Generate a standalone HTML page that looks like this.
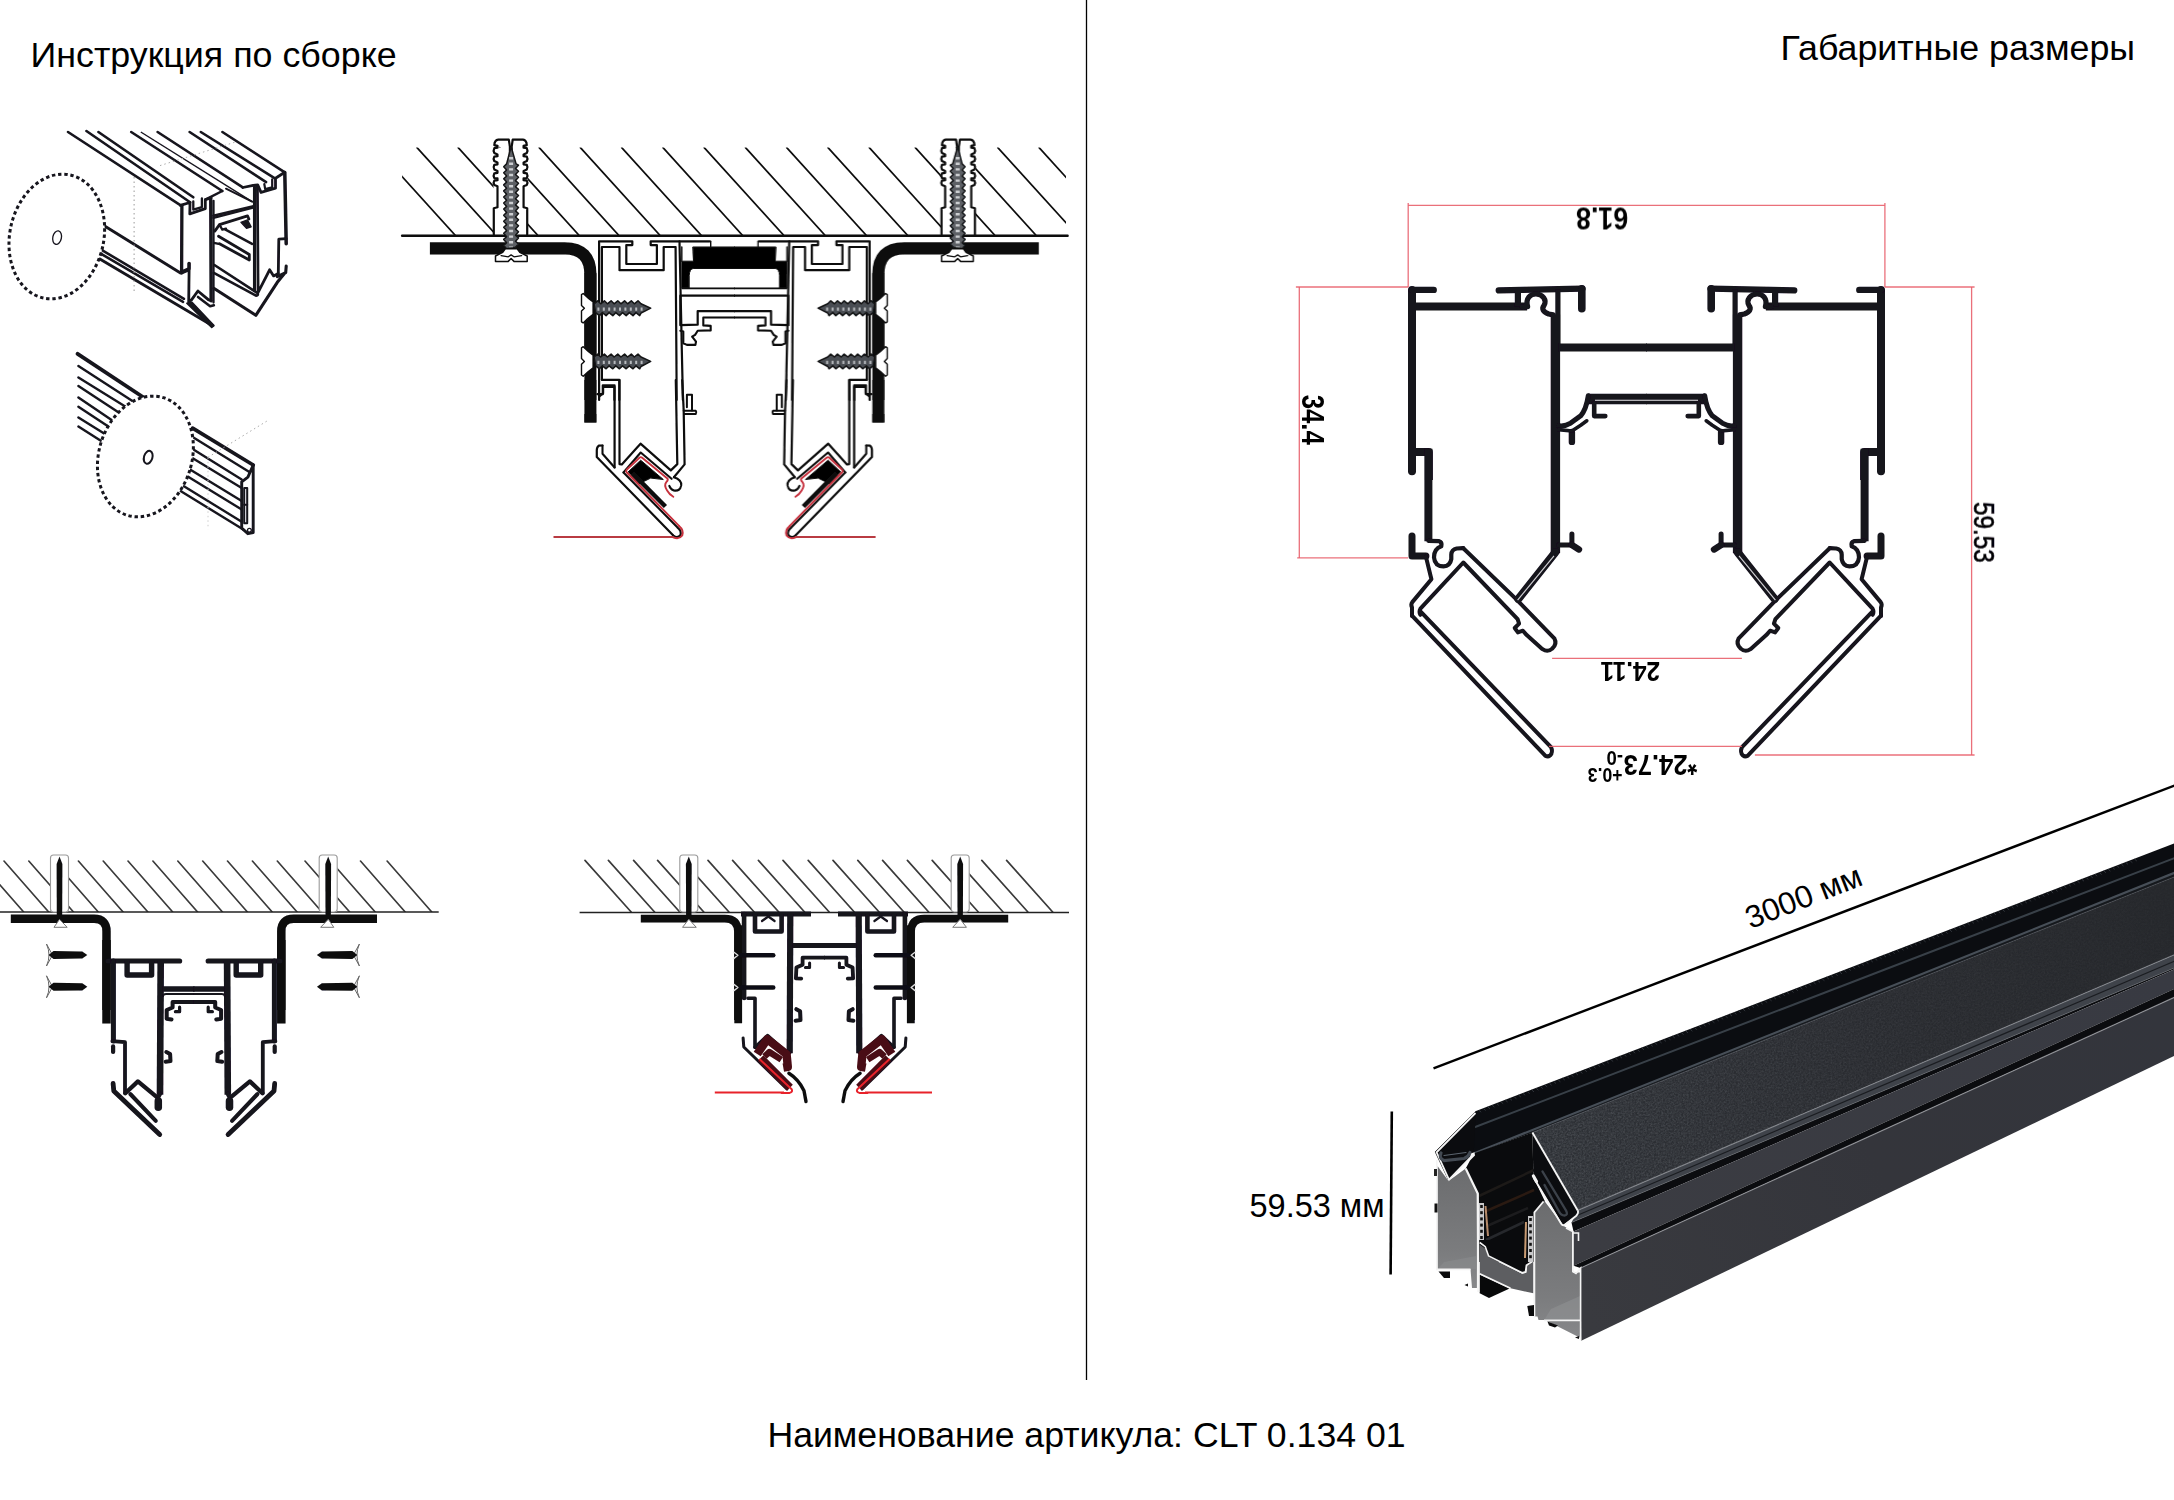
<!DOCTYPE html>
<html lang="ru"><head><meta charset="utf-8"><title>CLT 0.134 01</title>
<style>
html,body{margin:0;padding:0;background:#fff;}
body{width:2174px;height:1500px;overflow:hidden;font-family:"Liberation Sans",sans-serif;}
svg{display:block}
text{font-family:"Liberation Sans",sans-serif;fill:#000}
.k{fill:none;stroke:#111;stroke-linecap:round;stroke-linejoin:round}
.r{fill:none;stroke:#e0232b;stroke-linecap:round;stroke-linejoin:round}
</style></head><body>
<svg width="2174" height="1500" viewBox="0 0 2174 1500">
<rect width="2174" height="1500" fill="#fff"/>
<!-- headings, divider and caption -->
<line x1="1086.5" y1="0" x2="1086.5" y2="1380" stroke="#000" stroke-width="1.3"/>
<text x="30.5" y="66.5" font-size="35.8">Инструкция по сборке</text>
<text x="1780.6" y="59.5" font-size="35.8">Габаритные размеры</text>
<text x="767.4" y="1446.5" font-size="35.65">Наименование артикула: CLT 0.134 01</text>
<text x="1249.5" y="1216.5" font-size="32.5" fill="#111">59.53 мм</text>
<line x1="1391.8" y1="1111.5" x2="1390.6" y2="1274.5" stroke="#000" stroke-width="2.6"/>
<line x1="1433.5" y1="1068.4" x2="2176" y2="784.9" stroke="#000" stroke-width="2.4"/>
<text transform="translate(1750.4,929.2) rotate(-21.4)" font-size="31.6" fill="#111">3000 мм</text>

<!-- mounting section, top centre -->
<defs><filter id="soft3" x="-2%" y="-2%" width="104%" height="104%"><feGaussianBlur stdDeviation="0.45"/></filter></defs>
<g filter="url(#soft3)">
<clipPath id="hatchClip"><path d="M402.1,147.6 H1066.0 V235.8 H402.1 Z M493.5,235.8 h34 v-98 h-34 Z M941.3,235.8 h34 v-98 h-34 Z" clip-rule="evenodd"/></clipPath>
<g clip-path="url(#hatchClip)" stroke="#111" stroke-width="1.7" stroke-linecap="round">
<line x1="375.7" y1="147.6" x2="455.7" y2="235.8"/>
<line x1="417.0" y1="147.6" x2="497.0" y2="235.8"/>
<line x1="458.2" y1="147.6" x2="538.2" y2="235.8"/>
<line x1="499.5" y1="147.6" x2="579.5" y2="235.8"/>
<line x1="539.2" y1="147.6" x2="619.2" y2="235.8"/>
<line x1="580.4" y1="147.6" x2="660.4" y2="235.8"/>
<line x1="621.7" y1="147.6" x2="701.7" y2="235.8"/>
<line x1="663.0" y1="147.6" x2="742.9" y2="235.8"/>
<line x1="704.2" y1="147.6" x2="784.2" y2="235.8"/>
<line x1="745.5" y1="147.6" x2="825.5" y2="235.8"/>
<line x1="786.7" y1="147.6" x2="866.7" y2="235.8"/>
<line x1="828.0" y1="147.6" x2="908.0" y2="235.8"/>
<line x1="869.3" y1="147.6" x2="949.2" y2="235.8"/>
<line x1="915.3" y1="147.6" x2="995.3" y2="235.8"/>
<line x1="956.5" y1="147.6" x2="1036.5" y2="235.8"/>
<line x1="997.8" y1="147.6" x2="1077.8" y2="235.8"/>
<line x1="1039.1" y1="147.6" x2="1119.0" y2="235.8"/>
</g>
<line x1="402.1" y1="235.8" x2="1067.6" y2="235.8" stroke="#0d0d0d" stroke-width="2.4" stroke-linecap="round"/>
<clipPath id="asmL"><rect x="380" y="100" width="354.7" height="470"/></clipPath>
<g id="asmHalf" clip-path="url(#asmL)">
<path d="M 429.9,248.3 L 564.7,248.3 Q 590.4,248.3 590.4,274.6 L 590.4,361.5" fill="none" stroke="#0d0d0d" stroke-width="12.2" stroke-linecap="butt" stroke-linejoin="round" />
<path d="M 590.4,414.0 L 590.4,422.5" fill="none" stroke="#0d0d0d" stroke-width="12" stroke-linecap="butt" stroke-linejoin="round" />
<path d="M 590.4,380.0 L 590.4,422.5" fill="none" stroke="#0d0d0d" stroke-width="12" stroke-linecap="butt" stroke-linejoin="round" />
<path d="M 590.4,273.1 L 590.4,400.0" fill="none" stroke="#0d0d0d" stroke-width="12" stroke-linecap="butt" stroke-linejoin="round" />
<path d="M 493.8,235.1 L 493.8,208.2 L 497.5,207.3 L 497.5,186.3 L 494.3,185.0 Q 493.0,182.8 494.3,180.7 L 497.5,180.2 L 497.5,178.4 L 494.3,178.1 Q 493.0,175.7 494.3,173.3 L 497.5,172.8 L 497.5,171.0 L 494.3,169.6 Q 493.0,167.2 494.3,164.8 L 497.5,164.3 L 497.5,162.5 L 494.3,161.1 Q 493.0,158.8 494.3,156.7 L 497.5,156.2 L 497.5,154.5 L 494.3,153.0 Q 493.0,150.6 494.3,148.2 L 497.5,147.7 L 497.5,145.9 L 494.3,145.1 Q 494.6,140.0 498.2,139.6 L 508.8,139.6 L 509.9,146.6 L 509.9,157.0" fill="none" stroke="#0d0d0d" stroke-width="2.2" stroke-linecap="round" stroke-linejoin="round" />
<path d="M 527.2,235.1 L 527.2,208.2 L 523.6,207.3 L 523.6,186.3 L 526.8,185.0 Q 528.1,182.8 526.8,180.7 L 523.6,180.2 L 523.6,178.4 L 526.8,178.1 Q 528.1,175.7 526.8,173.3 L 523.6,172.8 L 523.6,171.0 L 526.8,169.6 Q 528.1,167.2 526.8,164.8 L 523.6,164.3 L 523.6,162.5 L 526.8,161.1 Q 528.1,158.8 526.8,156.7 L 523.6,156.2 L 523.6,154.5 L 526.8,153.0 Q 528.1,150.6 526.8,148.2 L 523.6,147.7 L 523.6,145.9 L 526.8,145.1 Q 526.5,140.0 523.0,139.6 L 512.7,139.6 L 511.7,146.6 L 511.7,157.0" fill="none" stroke="#0d0d0d" stroke-width="2.2" stroke-linecap="round" stroke-linejoin="round" />
<path d="M506.6,248.8 L503.7,245.5 L506.6,242.7 L503.7,239.4 L506.6,236.7 L503.7,233.3 L506.6,230.6 L503.7,227.3 L506.6,224.6 L503.7,221.2 L506.6,218.5 L503.7,215.2 L506.6,212.4 L503.7,209.1 L506.6,206.4 L503.7,203.0 L506.6,200.3 L503.7,197.0 L506.6,194.2 L503.7,190.9 L506.6,188.2 L503.7,184.9 L506.6,182.1 L503.7,178.8 L506.6,176.1 L503.7,172.7 L506.6,170.0 L503.7,166.7 L506.6,163.9 L511.1,146.6 L516.1,163.9 L518.5,165.2 L515.5,168.5 L518.5,171.2 L515.5,174.5 L518.5,177.3 L515.5,180.6 L518.5,183.3 L515.5,186.7 L518.5,189.4 L515.5,192.7 L518.5,195.5 L515.5,198.8 L518.5,201.5 L515.5,204.9 L518.5,207.6 L515.5,210.9 L518.5,213.6 L515.5,217.0 L518.5,219.7 L515.5,223.0 L518.5,225.8 L515.5,229.1 L518.5,231.8 L515.5,235.2 L518.5,237.9 L515.5,241.2 L518.5,243.9 L515.5,247.3 Z" fill="#5d6065" stroke="#131416" stroke-width="1.5" stroke-linejoin="round"/>
<path d="M 511.1,157.0 L 511.1,247.2" fill="none" stroke="#d8dadd" stroke-width="4.0" stroke-linecap="butt" stroke-linejoin="round" stroke-dasharray="2.4 3.2" opacity="0.9"/>
<path d="M 505.3,248.8 L 517.2,248.8 L 519.8,252.3 L 527.2,256.0 L 527.2,261.4 L 514.0,261.4 L 511.1,258.5 L 508.2,261.4 L 495.5,261.4 L 495.5,256.0 L 502.7,252.3 Z" fill="#fff" stroke="#0d0d0d" stroke-width="1.5" stroke-linecap="round" stroke-linejoin="round" />
<path d="M 501.1,255.6 L 508.3,256.8 L 511.1,254.9 L 514.0,256.8 L 521.7,255.6" fill="none" stroke="#0d0d0d" stroke-width="1.3" stroke-linecap="round" stroke-linejoin="round" />
<path d="M 599.1,400.0 L 599.1,241.3 L 632.3,241.3 L 632.3,245.1 L 626.3,245.1 L 626.3,264.0 L 656.9,264.0 L 656.9,245.1 L 650.7,245.1 L 650.7,241.3 L 709.6,241.3" fill="none" stroke="#0d0d0d" stroke-width="2.2" stroke-linecap="round" stroke-linejoin="round" />
<path d="M 601.9,379.8 L 601.9,247.0 L 619.5,247.0 L 619.5,270.2 L 663.7,270.2 L 663.7,247.0 L 675.6,247.0 L 676.7,400.0" fill="none" stroke="#0d0d0d" stroke-width="2.2" stroke-linecap="round" stroke-linejoin="round" />
<path d="M 679.5,241.3 L 682.9,400.0" fill="none" stroke="#0d0d0d" stroke-width="2.2" stroke-linecap="round" stroke-linejoin="round" />
<path d="M 601.9,379.8 L 619.3,379.8 L 619.3,400.0" fill="none" stroke="#0d0d0d" stroke-width="2.2" stroke-linecap="round" stroke-linejoin="round" />
<path d="M 599.1,396.6 L 603.1,393.2 L 603.1,386.9 L 614.4,386.9 L 614.4,400.0" fill="none" stroke="#0d0d0d" stroke-width="2.2" stroke-linecap="round" stroke-linejoin="round" />
<path d="M 693.1,247.0 L 736.8,247.0 L 736.8,268.5 L 693.1,268.5 Q 689.7,269.1 689.2,275.3 L 689.2,288.4 L 681.8,288.4 L 681.8,261.2 L 693.1,261.2 Z" fill="#050505" stroke="#0d0d0d" stroke-width="1" stroke-linecap="round" stroke-linejoin="round" />
<path d="M 681.8,288.4 L 736.8,288.4" fill="none" stroke="#0d0d0d" stroke-width="1.8" stroke-linecap="butt" stroke-linejoin="round" />
<path d="M 681.8,247.0 L 681.8,261.2" fill="none" stroke="#0d0d0d" stroke-width="1.4" stroke-linecap="round" stroke-linejoin="round" />
<path d="M 710.7,241.3 L 710.7,247.0" fill="none" stroke="#0d0d0d" stroke-width="1.4" stroke-linecap="round" stroke-linejoin="round" />
<path d="M 736.8,295.7 L 680.3,295.7 L 680.3,325.2 L 697.7,324.7 L 697.7,311.1 L 736.8,311.1" fill="none" stroke="#0d0d0d" stroke-width="2.2" stroke-linecap="round" stroke-linejoin="round" />
<path d="M 736.8,317.5 L 703.3,317.5 L 703.3,325.4 L 710.7,325.9 L 710.7,330.4 L 697.7,330.8 L 695.1,334.9 L 692.1,336.7 L 696.0,341.7 L 695.4,344.9 L 686.9,344.9 L 683.3,343.3 L 683.3,331.5 L 680.3,330.8" fill="none" stroke="#0d0d0d" stroke-width="2.1" stroke-linecap="round" stroke-linejoin="round" />
<path d="M 597.4,394.2 L 602.8,394.2 L 602.8,385.4 L 614.6,385.4 L 614.6,467.5" fill="none" stroke="#0d0d0d" stroke-width="2.2" stroke-linecap="round" stroke-linejoin="round" />
<path d="M 619.5,380.0 L 619.5,464.1 L 621.8,464.4 L 640.5,443.7 L 670.8,470.4 L 677.3,464.1 L 675.8,380.0" fill="none" stroke="#0d0d0d" stroke-width="2.2" stroke-linecap="round" stroke-linejoin="round" />
<path d="M 602.5,445.5 L 598.8,445.7 Q 596.8,446.9 596.8,450.3 L 596.8,457.1 L 673.3,535.5" fill="none" stroke="#0d0d0d" stroke-width="2.2" stroke-linecap="round" stroke-linejoin="round" />
<path d="M 602.5,445.5 L 602.5,453.7 L 614.6,467.5" fill="none" stroke="#0d0d0d" stroke-width="2.1" stroke-linecap="round" stroke-linejoin="round" />
<path d="M 682.2,380.0 L 683.7,410.6 L 684.6,464.4 L 673.9,477.2" fill="none" stroke="#0d0d0d" stroke-width="2.2" stroke-linecap="round" stroke-linejoin="round" />
<path d="M 683.7,410.8 L 695.8,410.8 Q 696.9,412.4 695.8,414.0 L 684.1,414.0" fill="none" stroke="#0d0d0d" stroke-width="2.0" stroke-linecap="round" stroke-linejoin="round" />
<path d="M 686.9,407.2 L 686.9,394.7 L 692.0,394.7 L 692.0,410.4" fill="none" stroke="#0d0d0d" stroke-width="2.0" stroke-linecap="round" stroke-linejoin="round" />
<path d="M 673.9,477.2 Q 681.8,479.7 681.2,485.4 Q 680.1,491.6 673.9,490.5 Q 670.5,489.3 669.3,485.9" fill="none" stroke="#0d0d0d" stroke-width="2.1" stroke-linecap="round" stroke-linejoin="round" />
<path d="M 623.5,472.4 L 640.7,452.5 L 671.6,478.8" fill="none" stroke="#0d0d0d" stroke-width="2.1" stroke-linecap="round" stroke-linejoin="round" />
<path d="M 623.5,472.4 L 677.3,527.3 Q 682.4,531.3 680.1,535.5 Q 677.3,538.6 673.3,535.5" fill="none" stroke="#0d0d0d" stroke-width="2.1" stroke-linecap="round" stroke-linejoin="round" />
<path d="M 628.0,472.0 L 640.7,460.2 L 663.3,479.5 L 650.7,478.1 L 642.3,482.2 L 639.3,483.7 Z" fill="#050505" stroke="#0d0d0d" stroke-width="1" stroke-linecap="round" stroke-linejoin="round" />
<path d="M 632.5,473.4 L 665.4,506.5" fill="none" stroke="#0d0d0d" stroke-width="4.6" stroke-linecap="butt" stroke-linejoin="round" />
<path d="M 679.0,525.9 L 626.4,472.0 Q 625.5,470.9 626.9,469.5 L 639.7,457.5 Q 640.9,456.6 642.5,458.0 L 667.4,478.4 Q 668.6,479.9 666.3,482.2 Q 663.7,485.4 667.1,490.5 Q 669.3,494.4 673.3,496.7" fill="none" stroke="#c7313e" stroke-width="1.9" stroke-linecap="round" stroke-linejoin="round" />
<path d="M 679.0,525.9 Q 684.1,530.1 682.2,535.5 Q 679.0,539.8 673.3,537.3" fill="none" stroke="#c7313e" stroke-width="2.0" stroke-linecap="round" stroke-linejoin="round" />
<path d="M594.0,303.8 L597.7,300.8 L600.7,303.8 L604.4,300.8 L607.4,303.8 L611.1,300.8 L614.1,303.8 L617.8,300.8 L620.9,303.8 L624.6,300.8 L627.6,303.8 L631.3,300.8 L634.3,303.8 L638.0,300.8 L641.0,303.8 L650.7,308.2 L641.0,313.2 L639.7,315.6 L636.0,312.6 L633.0,315.6 L629.3,312.6 L626.2,315.6 L622.5,312.6 L619.5,315.6 L615.8,312.6 L612.8,315.6 L609.1,312.6 L606.1,315.6 L602.4,312.6 L599.4,315.6 L595.7,312.6 Z" fill="#4a4d52" stroke="#131416" stroke-width="1.5" stroke-linejoin="round"/>
<path d="M 597.4,309.1 L 642.7,309.1" fill="none" stroke="#c9ccd0" stroke-width="3.4" stroke-linecap="butt" stroke-linejoin="round" stroke-dasharray="2 3.4" opacity="0.85"/>
<path d="M 593.1,302.0 Q 588.3,298.6 583.2,293.5 L 581.5,294.6 L 581.5,305.4 L 584.4,308.2 L 581.5,311.0 L 581.5,321.8 L 583.2,322.9 Q 588.3,317.8 593.1,314.4 Z" fill="#fff" stroke="#0d0d0d" stroke-width="1.4" stroke-linecap="round" stroke-linejoin="round" />
<path d="M594.0,357.0 L597.7,354.1 L600.7,357.0 L604.4,354.1 L607.4,357.0 L611.1,354.1 L614.1,357.0 L617.8,354.1 L620.9,357.0 L624.6,354.1 L627.6,357.0 L631.3,354.1 L634.3,357.0 L638.0,354.1 L641.0,357.0 L650.7,361.4 L641.0,366.5 L639.7,368.8 L636.0,365.9 L633.0,368.8 L629.3,365.9 L626.2,368.8 L622.5,365.9 L619.5,368.8 L615.8,365.9 L612.8,368.8 L609.1,365.9 L606.1,368.8 L602.4,365.9 L599.4,368.8 L595.7,365.9 Z" fill="#4a4d52" stroke="#131416" stroke-width="1.5" stroke-linejoin="round"/>
<path d="M 597.4,362.4 L 642.7,362.4" fill="none" stroke="#c9ccd0" stroke-width="3.4" stroke-linecap="butt" stroke-linejoin="round" stroke-dasharray="2 3.4" opacity="0.85"/>
<path d="M 593.1,355.2 Q 588.3,351.8 583.2,346.7 L 581.5,347.8 L 581.5,358.6 L 584.4,361.4 L 581.5,364.3 L 581.5,375.0 L 583.2,376.2 Q 588.3,371.1 593.1,367.7 Z" fill="#fff" stroke="#0d0d0d" stroke-width="1.4" stroke-linecap="round" stroke-linejoin="round" />
</g>
<use href="#asmHalf" transform="translate(1468.8,0) scale(-1,1)"/>
<line x1="553.5" y1="537" x2="673.6" y2="537" stroke="#b93a42" stroke-width="2.1"/>
<line x1="795.2" y1="537" x2="875.6" y2="537" stroke="#b93a42" stroke-width="2.1"/>
</g>

<!-- lower-left: bracket first, profile loose; lower-middle: profile mounted -->
<defs><filter id="soft" x="-5%" y="-5%" width="110%" height="110%"><feGaussianBlur stdDeviation="0.75"/></filter></defs>
<g filter="url(#soft)">
<clipPath id="h3"><path d="M0,855 H445 V912 H0 Z M50.5,912 h18 v-60 h-18 Z M319.3,912 h18 v-60 h-18 Z" clip-rule="evenodd"/></clipPath>
<g clip-path="url(#h3)"><g stroke="#3a3a3a" stroke-width="1.65" stroke-linecap="round"><line x1="-21.0" y1="861.0" x2="23.7" y2="912.0"/><line x1="4.0" y1="861.0" x2="48.7" y2="912.0"/><line x1="28.8" y1="861.0" x2="73.5" y2="912.0"/><line x1="53.6" y1="861.0" x2="98.3" y2="912.0"/><line x1="78.4" y1="861.0" x2="123.1" y2="912.0"/><line x1="103.2" y1="861.0" x2="147.9" y2="912.0"/><line x1="128.0" y1="861.0" x2="172.7" y2="912.0"/><line x1="152.9" y1="861.0" x2="197.6" y2="912.0"/><line x1="177.8" y1="861.0" x2="222.5" y2="912.0"/><line x1="202.7" y1="861.0" x2="247.4" y2="912.0"/><line x1="227.5" y1="861.0" x2="272.2" y2="912.0"/><line x1="252.4" y1="861.0" x2="297.1" y2="912.0"/><line x1="277.3" y1="861.0" x2="322.0" y2="912.0"/><line x1="305.0" y1="861.0" x2="349.7" y2="912.0"/><line x1="330.5" y1="861.0" x2="375.2" y2="912.0"/><line x1="360.5" y1="861.0" x2="405.2" y2="912.0"/><line x1="387.1" y1="861.0" x2="431.8" y2="912.0"/></g></g>
<line x1="0" y1="912" x2="438.7" y2="912" stroke="#222" stroke-width="1.5"/>
<rect x="50.5" y="855.0" width="18.0" height="57.0" rx="3" fill="#fff" stroke="#9a9a9a" stroke-width="1.1"/><path d="M59.5,856.5 L62.4,864.0 L62.2,915.0 L56.8,915.0 L56.6,864.0 Z" fill="#0c0c10"/>
<rect x="319.2" y="855.0" width="18.0" height="57.0" rx="3" fill="#fff" stroke="#9a9a9a" stroke-width="1.1"/><path d="M328.2,856.5 L331.1,864.0 L330.9,915.0 L325.5,915.0 L325.3,864.0 Z" fill="#0c0c10"/>
<clipPath id="c3"><rect x="0" y="900" width="194.5" height="260"/></clipPath>
<g id="low3" clip-path="url(#c3)"><path d="M 10.8,918.8 L 94.1,918.8 Q 106.5,918.8 106.5,931.2 L 106.5,1010.0" fill="none" stroke="#0a0a0c" stroke-width="8.5" stroke-linecap="butt" stroke-linejoin="round" />
<path d="M 106.5,940.0 L 106.5,1023.6" fill="none" stroke="#0a0a0c" stroke-width="8.5" stroke-linecap="butt" stroke-linejoin="round" />
<path d="M 54.2,927.0 L 59.5,919.3 L 66.9,927.0 Z" fill="#fff" stroke="#777" stroke-width="1.0" stroke-linecap="round" stroke-linejoin="round" />
<path d="M 107.9,961.0 L 179.6,961.0" fill="none" stroke="#14121c" stroke-width="5.2" stroke-linecap="round" stroke-linejoin="round" />
<path d="M 127.1,961.0 L 127.1,975.0 L 151.6,975.0 L 151.6,961.0" fill="none" stroke="#14121c" stroke-width="5.4" stroke-linecap="butt" stroke-linejoin="round" />
<path d="M 113.4,961.0 L 113.4,1041.1" fill="none" stroke="#14121c" stroke-width="5.0" stroke-linecap="round" stroke-linejoin="round" />
<path d="M 112.4,1041.1 L 125.0,1042.2 L 125.0,1092.9" fill="none" stroke="#14121c" stroke-width="3.8" stroke-linecap="round" stroke-linejoin="round" />
<path d="M 113.1,1046.4 L 113.1,1052.0" fill="none" stroke="#14121c" stroke-width="4.2" stroke-linecap="round" stroke-linejoin="round" />
<path d="M 160.7,961.0 L 160.0,1094.7" fill="none" stroke="#14121c" stroke-width="6.6" stroke-linecap="butt" stroke-linejoin="round" />
<path d="M 162.8,989.0 L 196.4,989.0" fill="none" stroke="#14121c" stroke-width="5.6" stroke-linecap="butt" stroke-linejoin="round" />
<path d="M 163.1,996.0 Q 163.1,993.9 166.3,993.9 L 196.4,993.9" fill="none" stroke="#14121c" stroke-width="2.0" stroke-linecap="round" stroke-linejoin="round" />
<path d="M 196.4,1001.9 L 172.6,1001.9 L 172.6,1007.5 L 166.7,1010.0 L 166.7,1018.7 L 171.5,1019.5" fill="none" stroke="#14121c" stroke-width="4.0" stroke-linecap="round" stroke-linejoin="round" />
<path d="M 179.6,1007.2 L 179.6,1011.7 L 175.4,1011.7" fill="none" stroke="#14121c" stroke-width="3.2" stroke-linecap="round" stroke-linejoin="round" />
<path d="M 166.3,1052.0 L 170.1,1054.1 L 170.5,1061.1 L 165.6,1061.8" fill="none" stroke="#14121c" stroke-width="4.0" stroke-linecap="round" stroke-linejoin="round" />
<path d="M 125.3,1093.3 L 137.9,1081.4 L 157.8,1097.9 L 160.0,1094.0" fill="none" stroke="#14121c" stroke-width="4.2" stroke-linecap="round" stroke-linejoin="round" />
<path d="M 158.3,1101.0 L 158.3,1107.3" fill="none" stroke="#14121c" stroke-width="7.5" stroke-linecap="round" stroke-linejoin="round" />
<path d="M 113.1,1083.5 L 113.8,1090.9 L 159.7,1134.6" fill="none" stroke="#14121c" stroke-width="4.8" stroke-linecap="round" stroke-linejoin="round" />
<path d="M 130.3,1094.0 L 155.8,1120.9" fill="none" stroke="#14121c" stroke-width="4.0" stroke-linecap="round" stroke-linejoin="round" /></g>
<use href="#low3" transform="translate(387.8,0) scale(-1,1)"/>
<path d="M46.5,944.0 Q51.5,955.0 46.5,966.0 L52.5,955.0 Z" fill="#fff" stroke="#666" stroke-width="1"/><path d="M48.5,955.0 L53.5,951.0 L82.3,951.4 L87.3,955.0 L82.3,958.6 L53.5,959.0 Z" fill="#0d0d10"/>
<path d="M359.4,944.0 Q354.4,955.0 359.4,966.0 L353.4,955.0 Z" fill="#fff" stroke="#666" stroke-width="1"/><path d="M357.4,955.0 L352.4,951.0 L321.9,951.4 L316.9,955.0 L321.9,958.6 L352.4,959.0 Z" fill="#0d0d10"/>
<path d="M46.5,975.8 Q51.5,986.8 46.5,997.8 L52.5,986.8 Z" fill="#fff" stroke="#666" stroke-width="1"/><path d="M48.5,986.8 L53.5,982.8 L82.3,983.2 L87.3,986.8 L82.3,990.4 L53.5,990.8 Z" fill="#0d0d10"/>
<path d="M359.4,975.8 Q354.4,986.8 359.4,997.8 L353.4,986.8 Z" fill="#fff" stroke="#666" stroke-width="1"/><path d="M357.4,986.8 L352.4,982.8 L321.9,983.2 L316.9,986.8 L321.9,990.4 L352.4,990.8 Z" fill="#0d0d10"/>
</g>
<g filter="url(#soft)">
<clipPath id="h4"><path d="M577,855 H1070 V912 H577 Z M679.8,912 h18 v-60 h-18 Z M951.2,912 h18 v-60 h-18 Z" clip-rule="evenodd"/></clipPath>
<g clip-path="url(#h4)"><g stroke="#3a3a3a" stroke-width="1.65" stroke-linecap="round"><line x1="585.0" y1="860.4" x2="631.2" y2="912.0"/><line x1="608.4" y1="860.4" x2="654.6" y2="912.0"/><line x1="633.6" y1="860.4" x2="679.8" y2="912.0"/><line x1="657.6" y1="860.4" x2="703.8" y2="912.0"/><line x1="682.8" y1="860.4" x2="729.0" y2="912.0"/><line x1="708.0" y1="860.4" x2="754.2" y2="912.0"/><line x1="732.6" y1="860.4" x2="778.8" y2="912.0"/><line x1="758.4" y1="860.4" x2="804.6" y2="912.0"/><line x1="783.0" y1="860.4" x2="829.2" y2="912.0"/><line x1="808.2" y1="860.4" x2="854.3" y2="912.0"/><line x1="833.0" y1="860.4" x2="879.1" y2="912.0"/><line x1="857.8" y1="860.4" x2="903.9" y2="912.0"/><line x1="882.6" y1="860.4" x2="928.7" y2="912.0"/><line x1="907.4" y1="860.4" x2="953.5" y2="912.0"/><line x1="932.2" y1="860.4" x2="978.3" y2="912.0"/><line x1="957.0" y1="860.4" x2="1003.1" y2="912.0"/><line x1="981.8" y1="860.4" x2="1027.9" y2="912.0"/><line x1="1006.6" y1="860.4" x2="1052.7" y2="912.0"/></g></g>
<line x1="579.6" y1="912.6" x2="1069" y2="912.6" stroke="#222" stroke-width="1.5"/>
<rect x="679.8" y="855.0" width="18.0" height="57.0" rx="3" fill="#fff" stroke="#9a9a9a" stroke-width="1.1"/><path d="M688.8,856.5 L691.7,864.0 L691.5,915.0 L686.1,915.0 L685.9,864.0 Z" fill="#0c0c10"/>
<rect x="951.2" y="855.0" width="18.0" height="57.0" rx="3" fill="#fff" stroke="#9a9a9a" stroke-width="1.1"/><path d="M960.2,856.5 L963.1,864.0 L962.9,915.0 L957.5,915.0 L957.3,864.0 Z" fill="#0c0c10"/>
<clipPath id="c4"><rect x="570" y="900" width="255.1" height="260"/></clipPath>
<g id="low4" clip-path="url(#c4)"><path d="M 640.8,918.6 L 724.8,918.6 Q 738.0,918.6 738.0,931.8 L 738.0,1020.0" fill="none" stroke="#0a0a0c" stroke-width="7.8" stroke-linecap="butt" stroke-linejoin="round" />
<path d="M 738.2,925.2 L 738.2,1023.2" fill="none" stroke="#0a0a0c" stroke-width="7.8" stroke-linecap="butt" stroke-linejoin="round" />
<path d="M 682.8,927.0 L 688.8,919.2 L 696.0,927.0 Z" fill="#fff" stroke="#777" stroke-width="1.0" stroke-linecap="round" stroke-linejoin="round" />
<path d="M 741.0,914.0 L 811.0,914.0" fill="none" stroke="#14121c" stroke-width="4.8" stroke-linecap="butt" stroke-linejoin="round" />
<path d="M 755.0,914.0 L 755.0,931.5 L 781.6,931.5 L 781.6,914.0" fill="none" stroke="#14121c" stroke-width="4.6" stroke-linecap="butt" stroke-linejoin="round" />
<path d="M 762.0,921.0 L 768.3,916.5 L 774.6,921.0" fill="none" stroke="#14121c" stroke-width="2.2" stroke-linecap="round" stroke-linejoin="round" />
<path d="M 744.1,914.0 L 744.1,998.0" fill="none" stroke="#14121c" stroke-width="4.6" stroke-linecap="round" stroke-linejoin="round" />
<path d="M 748.0,998.3 L 755.0,998.3 L 755.0,1047.3" fill="none" stroke="#14121c" stroke-width="3.6" stroke-linecap="round" stroke-linejoin="round" />
<path d="M 790.3,914.0 L 789.7,1053.3" fill="none" stroke="#14121c" stroke-width="6.2" stroke-linecap="butt" stroke-linejoin="round" />
<path d="M 792.8,945.5 L 826.4,945.5" fill="none" stroke="#14121c" stroke-width="5.0" stroke-linecap="butt" stroke-linejoin="round" />
<path d="M 826.4,957.7 L 802.6,957.7 L 802.6,964.7 L 796.4,967.5 L 795.9,978.4 L 801.2,978.7" fill="none" stroke="#14121c" stroke-width="3.8" stroke-linecap="round" stroke-linejoin="round" />
<path d="M 809.6,963.0 L 809.6,967.5 L 805.4,967.5" fill="none" stroke="#14121c" stroke-width="3.0" stroke-linecap="round" stroke-linejoin="round" />
<path d="M 796.3,1009.2 L 800.1,1011.3 L 800.5,1020.1 L 795.6,1020.7" fill="none" stroke="#14121c" stroke-width="4.0" stroke-linecap="round" stroke-linejoin="round" />
<path d="M 741.0,955.3 L 769.0,955.3 L 773.2,955.3" fill="none" stroke="#101014" stroke-width="4.6" stroke-linecap="round" stroke-linejoin="round" />
<path d="M 734.0,952.2 L 737.9,955.3 L 734.0,958.4" fill="none" stroke="#ddd" stroke-width="1.4" stroke-linecap="round" stroke-linejoin="round" />
<path d="M 741.0,987.5 L 769.0,987.5 L 773.2,987.5" fill="none" stroke="#101014" stroke-width="4.6" stroke-linecap="round" stroke-linejoin="round" />
<path d="M 734.0,984.4 L 737.9,987.5 L 734.0,990.6" fill="none" stroke="#ddd" stroke-width="1.4" stroke-linecap="round" stroke-linejoin="round" />
<path d="M 743.1,1037.9 L 743.8,1047.0 L 786.9,1089.0" fill="none" stroke="#14121c" stroke-width="3.0" stroke-linecap="round" stroke-linejoin="round" />
<path d="M 755.0,1047.3 L 767.6,1035.5 L 785.5,1051.2 L 789.7,1052.9" fill="none" stroke="#14121c" stroke-width="3.4" stroke-linecap="round" stroke-linejoin="round" />
<path d="M 757.2,1054.0 L 767.3,1039.2 L 786.6,1054.3 L 787.8,1066.9 L 783.3,1067.7" fill="none" stroke="#4a0b15" stroke-width="8.4" stroke-linecap="butt" stroke-linejoin="round" />
<path d="M 781.3,1059.6 L 769.3,1052.0 L 764.5,1056.5" fill="none" stroke="#4a0b15" stroke-width="6.4" stroke-linecap="butt" stroke-linejoin="round" />
<path d="M 760.6,1058.2 L 790.0,1087.6" fill="none" stroke="#4a0b15" stroke-width="8.0" stroke-linecap="butt" stroke-linejoin="round" />
<path d="M 788.9,1073.3 Q 798.4,1079.2 804.0,1090.7 L 806.0,1101.6" fill="none" stroke="#0c0c10" stroke-width="3.4" stroke-linecap="round" stroke-linejoin="round" />
<path d="M 759.9,1059.6 L 791.7,1089.3 Q 793.1,1092.1 789.7,1092.9 L 781.6,1092.9" fill="none" stroke="#e8222c" stroke-width="2.0" stroke-linecap="round" stroke-linejoin="round" /></g>
<use href="#low4" transform="translate(1649.0,0) scale(-1,1)"/>
<line x1="714.8" y1="1092.5" x2="784" y2="1092.5" stroke="#e8222c" stroke-width="2.2"/>
<line x1="865" y1="1092.5" x2="932" y2="1092.5" stroke="#e8222c" stroke-width="2.2"/>
</g>

<!-- cutting the profile and the liner with a saw -->
<g filter="url(#soft2)">
<defs><filter id="soft2" x="-5%" y="-5%" width="110%" height="110%"><feGaussianBlur stdDeviation="0.55"/></filter></defs>
<line x1="68.0" y1="132.0" x2="180.7" y2="205.3" stroke="#15131d" stroke-width="2.6" stroke-linecap="round"/>
<line x1="86.4" y1="131.0" x2="190.1" y2="202.2" stroke="#15131d" stroke-width="2.6" stroke-linecap="round"/>
<line x1="98.4" y1="132.0" x2="193.3" y2="197.3" stroke="#15131d" stroke-width="2.6" stroke-linecap="round"/>
<line x1="131.2" y1="132.0" x2="222.3" y2="191.0" stroke="#15131d" stroke-width="2.6" stroke-linecap="round"/>
<line x1="140.8" y1="132" x2="252.1" y2="201.7" stroke="#15131d" stroke-width="1.4"/>
<line x1="157.6" y1="132.0" x2="242.8" y2="187.3" stroke="#15131d" stroke-width="2.6" stroke-linecap="round"/>
<line x1="189.6" y1="132.0" x2="266.1" y2="182.1" stroke="#15131d" stroke-width="2.6" stroke-linecap="round"/>
<line x1="200.8" y1="132.0" x2="275.3" y2="178.6" stroke="#15131d" stroke-width="2.6" stroke-linecap="round"/>
<line x1="222.4" y1="132.0" x2="284.8" y2="172.3" stroke="#15131d" stroke-width="2.6" stroke-linecap="round"/>
<path d="M 180.3,205.3 L 190.0,202.5 L 189.8,213.9 L 205.3,208.7 L 205.3,199.7 L 211.1,198.0" fill="none" stroke="#15131d" stroke-width="2.8" stroke-linecap="round" stroke-linejoin="round" />
<path d="M 193.3,201.3 L 193.3,209.7 L 201.9,207.1 L 201.9,198.5" fill="none" stroke="#15131d" stroke-width="2.3" stroke-linecap="round" stroke-linejoin="round" />
<path d="M 205.3,199.7 L 222.3,191.0" fill="none" stroke="#15131d" stroke-width="2.5" stroke-linecap="round" stroke-linejoin="round" />
<path d="M 181.9,205.3 L 181.6,271.9 L 189.0,268.7 L 189.0,263.3" fill="none" stroke="#15131d" stroke-width="3.3" stroke-linecap="round" stroke-linejoin="round" />
<path d="M 189.2,263.3 L 188.7,302.1 L 191.7,299.6 L 197.9,291.0 L 208.3,299.6 L 211.1,300.7" fill="none" stroke="#15131d" stroke-width="2.8" stroke-linecap="round" stroke-linejoin="round" />
<path d="M 210.7,198.0 L 211.1,300.8" fill="none" stroke="#15131d" stroke-width="3.3" stroke-linecap="round" stroke-linejoin="round" />
<path d="M 213.5,200.8 L 213.5,302.5" fill="none" stroke="#15131d" stroke-width="2.3" stroke-linecap="round" stroke-linejoin="round" />
<path d="M 198.0,296.9 L 210.1,306.3 L 213.9,305.3" fill="none" stroke="#15131d" stroke-width="2.5" stroke-linecap="round" stroke-linejoin="round" />
<path d="M 103.8,225.6 L 180.5,273.0 L 181.9,273.0" fill="none" stroke="#15131d" stroke-width="2.9" stroke-linecap="round" stroke-linejoin="round" />
<path d="M 96.9,247.2 L 184.0,298.8" fill="none" stroke="#15131d" stroke-width="2.5" stroke-linecap="round" stroke-linejoin="round" />
<path d="M 96.9,251.3 L 183.1,301.9" fill="none" stroke="#15131d" stroke-width="2.5" stroke-linecap="round" stroke-linejoin="round" />
<path d="M 95.2,256.3 L 212.6,325.8" fill="none" stroke="#15131d" stroke-width="2.8" stroke-linecap="round" stroke-linejoin="round" />
<path d="M 186.8,303.3 L 192.0,302.3 L 214.0,325.6 L 211.7,327.4 Z" fill="#15131d" stroke="#15131d" stroke-width="1.5" stroke-linecap="round" stroke-linejoin="round" />
<path d="M 181.9,273.2 L 188.3,270.4" fill="none" stroke="#15131d" stroke-width="2.5" stroke-linecap="round" stroke-linejoin="round" />
<path d="M 213.4,215.7 L 254.5,205.9" fill="none" stroke="#15131d" stroke-width="2.5" stroke-linecap="round" stroke-linejoin="round" />
<path d="M 213.4,217.8 L 254.0,207.5" fill="none" stroke="#15131d" stroke-width="2.3" stroke-linecap="round" stroke-linejoin="round" />
<path d="M 226.0,188.7 L 252.1,201.7" fill="none" stroke="#15131d" stroke-width="2.0" stroke-linecap="round" stroke-linejoin="round" />
<path d="M 214.8,231.1 L 219.5,224.6 L 247.5,215.9 L 248.9,219.0" fill="none" stroke="#15131d" stroke-width="2.8" stroke-linecap="round" stroke-linejoin="round" />
<path d="M 219.5,224.6 L 222.3,229.7 L 226.0,228.6" fill="none" stroke="#15131d" stroke-width="2.3" stroke-linecap="round" stroke-linejoin="round" />
<path d="M 240.9,222.3 L 247.5,219.9 L 251.2,226.9 L 246.5,228.3 Z" fill="#15131d" stroke="#15131d" stroke-width="1.2" stroke-linecap="round" stroke-linejoin="round" />
<path d="M 225.1,229.3 L 252.1,243.9" fill="none" stroke="#15131d" stroke-width="2.5" stroke-linecap="round" stroke-linejoin="round" />
<path d="M 218.5,236.3 L 249.3,254.5 L 249.3,260.1 L 219.5,243.7" fill="none" stroke="#15131d" stroke-width="2.8" stroke-linecap="round" stroke-linejoin="round" />
<path d="M 213.9,242.8 L 218.7,243.9" fill="none" stroke="#15131d" stroke-width="2.3" stroke-linecap="round" stroke-linejoin="round" />
<path d="M 214.4,265.0 L 257.6,293.2 Q 258.8,295.2 256.0,295.7 L 213.8,272.8" fill="none" stroke="#15131d" stroke-width="2.6" stroke-linecap="round" stroke-linejoin="round" />
<path d="M 213.8,288.3 L 255.8,315.3 L 277.3,282.3 L 284.0,274.0" fill="none" stroke="#15131d" stroke-width="3.1" stroke-linecap="round" stroke-linejoin="round" />
<path d="M 254.5,186.8 L 254.5,290.4" fill="none" stroke="#15131d" stroke-width="3.1" stroke-linecap="round" stroke-linejoin="round" />
<path d="M 257.4,185.9 L 258.1,292.4 L 269.6,269.8 L 273.6,275.9 L 278.3,273.4" fill="none" stroke="#15131d" stroke-width="2.8" stroke-linecap="round" stroke-linejoin="round" />
<path d="M 242.8,187.5 L 253.2,185.4 L 257.7,184.9 L 261.0,192.4 L 275.5,188.2 L 275.5,178.2 L 284.8,172.3" fill="none" stroke="#15131d" stroke-width="2.8" stroke-linecap="round" stroke-linejoin="round" />
<path d="M 264.3,184.0 L 265.2,189.1 L 272.2,187.3 L 272.2,179.3" fill="none" stroke="#15131d" stroke-width="2.2" stroke-linecap="round" stroke-linejoin="round" />
<path d="M 284.8,172.6 L 286.2,243.7" fill="none" stroke="#15131d" stroke-width="3.5" stroke-linecap="round" stroke-linejoin="round" />
<path d="M 286.2,238.6 L 278.8,239.1 L 278.3,273.1" fill="none" stroke="#15131d" stroke-width="2.8" stroke-linecap="round" stroke-linejoin="round" />
<path d="M 286.2,266.1 L 285.7,272.7 L 277.3,276.6" fill="none" stroke="#15131d" stroke-width="3.1" stroke-linecap="round" stroke-linejoin="round" />
<line x1="134.1" y1="177" x2="134.1" y2="292" stroke="#999" stroke-width="1" stroke-dasharray="1.5 3"/>
<line x1="160" y1="165.6" x2="236.8" y2="141.6" stroke="#aaa" stroke-width="1" stroke-dasharray="1.5 3"/>
<g transform="translate(56.8,236.5) rotate(12.2)"><ellipse rx="47" ry="63" fill="#fff" stroke="#15131d" stroke-width="3.0" stroke-dasharray="3.4 2.8"/></g>
<ellipse cx="57.1" cy="237.6" rx="4.3" ry="6.8" fill="none" stroke="#15131d" stroke-width="1.3" transform="rotate(12 57.1 237.6)"/>
<path d="M 77.6,353.8 L 145.9,399.0" fill="none" stroke="#15131d" stroke-width="3.8" stroke-linecap="round" stroke-linejoin="round" />
<path d="M 78.4,366.0 L 139.0,405.2" fill="none" stroke="#15131d" stroke-width="2.4" stroke-linecap="round" stroke-linejoin="round" />
<path d="M 78.4,377.5 L 130.5,409.8" fill="none" stroke="#15131d" stroke-width="2.4" stroke-linecap="round" stroke-linejoin="round" />
<path d="M 78.4,386.0 L 125.2,416.7" fill="none" stroke="#15131d" stroke-width="2.4" stroke-linecap="round" stroke-linejoin="round" />
<path d="M 78.4,397.5 L 119.0,425.1" fill="none" stroke="#15131d" stroke-width="2.4" stroke-linecap="round" stroke-linejoin="round" />
<path d="M 78.4,406.7 L 114.4,430.5" fill="none" stroke="#15131d" stroke-width="2.4" stroke-linecap="round" stroke-linejoin="round" />
<path d="M 78.4,417.4 L 110.6,437.4" fill="none" stroke="#15131d" stroke-width="2.4" stroke-linecap="round" stroke-linejoin="round" />
<path d="M 78.4,426.6 L 107.5,445.0" fill="none" stroke="#15131d" stroke-width="2.4" stroke-linecap="round" stroke-linejoin="round" />
<path d="M 192.6,428.2 L 253.2,465.0" fill="none" stroke="#15131d" stroke-width="3.8" stroke-linecap="round" stroke-linejoin="round" />
<path d="M 194.2,438.1 L 249.4,471.9" fill="none" stroke="#15131d" stroke-width="2.4" stroke-linecap="round" stroke-linejoin="round" />
<path d="M 192.6,448.9 L 241.7,479.5" fill="none" stroke="#15131d" stroke-width="2.4" stroke-linecap="round" stroke-linejoin="round" />
<path d="M 191.1,457.3 L 241.7,488.0" fill="none" stroke="#15131d" stroke-width="2.4" stroke-linecap="round" stroke-linejoin="round" />
<path d="M 188.8,468.8 L 241.7,501.0" fill="none" stroke="#15131d" stroke-width="2.4" stroke-linecap="round" stroke-linejoin="round" />
<path d="M 186.5,475.7 L 241.7,509.4" fill="none" stroke="#15131d" stroke-width="2.4" stroke-linecap="round" stroke-linejoin="round" />
<path d="M 181.9,484.9 L 241.7,521.7" fill="none" stroke="#15131d" stroke-width="2.4" stroke-linecap="round" stroke-linejoin="round" />
<path d="M 178.1,489.5 L 243.3,529.4" fill="none" stroke="#15131d" stroke-width="2.4" stroke-linecap="round" stroke-linejoin="round" />
<path d="M 253.2,465.0 L 253.2,532.5 L 247.9,533.7 L 241.7,528.2 L 241.7,481.8 L 247.9,477.2 L 253.2,465.0" fill="none" stroke="#15131d" stroke-width="2.9" stroke-linecap="round" stroke-linejoin="round" />
<path d="M 244.2,488.0 L 247.2,488.0 L 247.2,523.3 L 244.2,523.3 Z" fill="none" stroke="#15131d" stroke-width="2.0" stroke-linecap="round" stroke-linejoin="round" />
<path d="M 244.2,504.8 L 247.2,504.8" fill="none" stroke="#15131d" stroke-width="2.0" stroke-linecap="round" stroke-linejoin="round" />
<circle cx="249.4" cy="530.2" r="1.9" fill="none" stroke="#15131d" stroke-width="1.3"/>
<line x1="208.0" y1="457.3" x2="267.8" y2="420.5" stroke="#aaa" stroke-width="1" stroke-dasharray="1.5 3"/>
<line x1="208.0" y1="457.3" x2="208.0" y2="529.4" stroke="#ccc" stroke-width="1" stroke-dasharray="1.5 3"/>
<g transform="translate(145.4,456.5) rotate(17)"><ellipse rx="46.5" ry="61.5" fill="#fff" stroke="#15131d" stroke-width="3.0" stroke-dasharray="3.4 2.8"/></g>
<ellipse cx="148.2" cy="457.3" rx="4.2" ry="6.6" fill="none" stroke="#15131d" stroke-width="2" transform="rotate(17 148.2 457.3)"/>
</g>

<!-- overall dimensions drawing -->
<g filter="url(#soft3)">
<clipPath id="dimL"><rect x="1390" y="170" width="257.0" height="700"/></clipPath>
<g id="dimHalf" clip-path="url(#dimL)">
<path d="M 1412.0,290.1 L 1412.0,471.2" fill="none" stroke="#14121d" stroke-width="8" stroke-linecap="round" stroke-linejoin="round" />
<path d="M 1412.0,289.9 L 1433.7,289.9" fill="none" stroke="#14121d" stroke-width="6.4" stroke-linecap="round" stroke-linejoin="round" />
<path d="M 1412.0,306.6 L 1527.1,306.6" fill="none" stroke="#14121d" stroke-width="8" stroke-linecap="butt" stroke-linejoin="round" />
<path d="M 1498.8,290.4 L 1582.4,288.6" fill="none" stroke="#14121d" stroke-width="6.4" stroke-linecap="round" stroke-linejoin="round" />
<path d="M 1581.8,288.9 L 1581.8,308.7" fill="none" stroke="#14121d" stroke-width="7.6" stroke-linecap="round" stroke-linejoin="round" />
<path d="M 1517.9,291.5 L 1517.9,306.6" fill="none" stroke="#14121d" stroke-width="6.2" stroke-linecap="butt" stroke-linejoin="round" />
<path d="M 1522.0,306.9 L 1527.6,306.6 C 1525.2,298.4 1530.5,294.0 1535.9,294.0 C 1542.8,294.0 1547.2,299.9 1544.0,305.5 C 1541.4,308.7 1543.1,311.9 1548.7,314.0 L 1553.1,314.9" fill="none" stroke="#14121d" stroke-width="5.2" stroke-linecap="round" stroke-linejoin="round" />
<path d="M 1557.9,289.3 L 1557.9,348.0" fill="none" stroke="#14121d" stroke-width="5.2" stroke-linecap="butt" stroke-linejoin="round" />
<path d="M 1555.4,314.6 L 1555.4,553.3" fill="none" stroke="#14121d" stroke-width="9.4" stroke-linecap="butt" stroke-linejoin="round" />
<path d="M 1558.7,347.6 L 1648.1,347.6" fill="none" stroke="#14121d" stroke-width="8" stroke-linecap="butt" stroke-linejoin="round" />
<path d="M 1587.6,399.0 L 1648.1,399.0" fill="none" stroke="#14121d" stroke-width="10.6" stroke-linecap="butt" stroke-linejoin="round" />
<path d="M 1588.3,395.7 Q 1586.2,409.6 1580.7,415.8 L 1570.7,423.1 Q 1564.8,426.6 1559.0,425.7" fill="none" stroke="#14121d" stroke-width="5" stroke-linecap="round" stroke-linejoin="round" />
<path d="M 1594.2,403.0 L 1594.2,416.1 L 1605.3,416.1" fill="none" stroke="#14121d" stroke-width="4.6" stroke-linecap="round" stroke-linejoin="round" />
<path d="M 1571.9,431.9 L 1571.9,441.9" fill="none" stroke="#14121d" stroke-width="6.4" stroke-linecap="round" stroke-linejoin="round" />
<path d="M 1558.7,429.6 L 1571.9,431.0 L 1580.7,425.2 L 1586.8,420.8" fill="none" stroke="#14121d" stroke-width="3.6" stroke-linecap="round" stroke-linejoin="round" />
<path d="M 1412.0,452.1 L 1428.9,452.1 L 1428.9,480.0" fill="none" stroke="#14121d" stroke-width="8" stroke-linecap="butt" stroke-linejoin="round" />
<path d="M 1428.4,448.8 L 1428.4,541.2" fill="none" stroke="#14121d" stroke-width="8" stroke-linecap="butt" stroke-linejoin="round" />
<path d="M 1412.0,536.1 L 1412.0,555.9 L 1425.9,555.9" fill="none" stroke="#14121d" stroke-width="7" stroke-linecap="round" stroke-linejoin="round" />
<path d="M 1428.4,540.9 L 1439.1,541.2 Q 1442.2,542.1 1441.3,546.2 Q 1434.0,548.8 1434.0,557.3 Q 1434.7,566.1 1443.5,566.4 Q 1450.1,566.1 1451.3,559.1 L 1451.3,554.7 Q 1451.6,549.4 1456.7,548.5 L 1463.3,548.2" fill="none" stroke="#14121d" stroke-width="4.2" stroke-linecap="round" stroke-linejoin="round" />
<path d="M 1425.9,556.6 L 1431.4,579.3 L 1412.3,602.1 Q 1410.5,604.6 1412.0,607.5 L 1412.0,616.0" fill="none" stroke="#14121d" stroke-width="4" stroke-linecap="round" stroke-linejoin="round" />
<path d="M 1463.3,548.2 L 1516.4,599.4 L 1554.3,638.3 Q 1557.5,644.2 1552.2,648.6 Q 1547.8,652.7 1542.5,649.2 L 1526.7,635.1 L 1522.9,630.7 L 1517.9,632.4 L 1514.7,628.0 L 1519.1,623.6 L 1517.6,619.2 L 1463.3,562.5 L 1420.4,608.7 Q 1418.7,611.6 1420.4,614.8" fill="none" stroke="#14121d" stroke-width="4" stroke-linecap="round" stroke-linejoin="round" />
<path d="M 1555.4,552.2 L 1518.3,599.1" fill="none" stroke="#14121d" stroke-width="8" stroke-linecap="round" stroke-linejoin="round" />
<path d="M 1558.7,545.0 L 1571.9,545.0 L 1571.9,533.9" fill="none" stroke="#14121d" stroke-width="5" stroke-linecap="round" stroke-linejoin="round" />
<path d="M 1571.9,545.0 L 1578.9,549.4" fill="none" stroke="#14121d" stroke-width="6.5" stroke-linecap="round" stroke-linejoin="round" />
<path d="M 1412.0,615.6 L 1545.2,755.7 Q 1549.0,757.8 1551.3,754.0 Q 1552.8,750.1 1551.0,747.2 L 1420.4,611.4" fill="none" stroke="#14121d" stroke-width="4" stroke-linecap="round" stroke-linejoin="round" />
<path d="M 1595.0,400.2 L 1648.1,400.2" fill="none" stroke="#fff" stroke-width="1.1" stroke-linecap="butt" stroke-linejoin="round" opacity="0.9"/>
<path d="M 1554.0,555.9 L 1517.6,600.2" fill="none" stroke="#fff" stroke-width="1.2" stroke-linecap="butt" stroke-linejoin="round" opacity="0.8"/>
</g>
<use href="#dimHalf" transform="translate(3293.0,0) scale(-1,1)"/>
<line x1="1408.2" y1="205.4" x2="1884.9" y2="205.4" stroke="#e8606c" stroke-width="1.3" opacity="0.9"/>
<line x1="1408.2" y1="202.9" x2="1408.2" y2="287.0" stroke="#e8606c" stroke-width="1.3" opacity="0.9"/>
<line x1="1884.9" y1="202.9" x2="1884.9" y2="287.0" stroke="#e8606c" stroke-width="1.3" opacity="0.9"/>
<line x1="1299.3" y1="287.0" x2="1299.3" y2="557.9" stroke="#e8606c" stroke-width="1.3" opacity="0.9"/>
<line x1="1295.9" y1="287.0" x2="1408.2" y2="287.0" stroke="#e8606c" stroke-width="1.3" opacity="0.9"/>
<line x1="1297.2" y1="557.9" x2="1408.2" y2="557.9" stroke="#e8606c" stroke-width="1.3" opacity="0.9"/>
<line x1="1971.6" y1="287.0" x2="1971.6" y2="755.0" stroke="#e8606c" stroke-width="1.3" opacity="0.9"/>
<line x1="1884.9" y1="287.0" x2="1974.6" y2="287.0" stroke="#e8606c" stroke-width="1.3" opacity="0.9"/>
<line x1="1754.9" y1="755.0" x2="1974.6" y2="755.0" stroke="#e8606c" stroke-width="1.3" opacity="0.9"/>
<line x1="1552.1" y1="658.4" x2="1741.9" y2="658.4" stroke="#e8606c" stroke-width="1.3" opacity="0.9"/>
<line x1="1549.0" y1="746.4" x2="1741.9" y2="746.4" stroke="#e8606c" stroke-width="1.3" opacity="0.9"/>
<text transform="translate(1602.1,207.5) rotate(180) scale(0.84,1)" font-size="32" font-weight="bold" text-anchor="middle" fill="#15131c" >61.8</text>
<text transform="translate(1302.0,419.7) rotate(90) scale(0.83,1)" font-size="31" font-weight="bold" text-anchor="middle" fill="#15131c" >34.4</text>
<text transform="translate(1974.0,532.3) rotate(90) scale(0.81,1)" font-size="30" font-weight="normal" text-anchor="middle" fill="#15131c" stroke="#15131c" stroke-width="0.7">59.53</text>
<text transform="translate(1630.2,662.1) rotate(180) scale(0.9,1)" font-size="27" font-weight="bold" text-anchor="middle" fill="#15131c" >24.11</text>
<text transform="translate(1660.5,755.0) rotate(180) scale(0.85,1)" font-size="30" font-weight="bold" text-anchor="middle" fill="#15131c" >*24.73</text>
<text transform="translate(1605.2,768.3) rotate(180) scale(0.86,1)" font-size="20.5" font-weight="bold" text-anchor="middle" fill="#15131c" >+0.3</text>
<text transform="translate(1614.8,750.6) rotate(180) scale(0.9,1)" font-size="20.5" font-weight="bold" text-anchor="middle" fill="#15131c" >-0</text>
</g>

<!-- black aluminium profile, perspective view -->
<defs>
<linearGradient id="gMain" gradientUnits="userSpaceOnUse" x1="1540" y1="1180" x2="2174" y2="920"><stop offset="0" stop-color="#2d3035"/><stop offset="0.5" stop-color="#292b30"/><stop offset="1" stop-color="#25272b"/></linearGradient>
<linearGradient id="gSide" gradientUnits="userSpaceOnUse" x1="1580" y1="1300" x2="2174" y2="1030"><stop offset="0" stop-color="#393a3f"/><stop offset="0.5" stop-color="#34353b"/><stop offset="1" stop-color="#33353c"/></linearGradient>
<linearGradient id="gRec" gradientUnits="userSpaceOnUse" x1="1580" y1="1250" x2="2174" y2="985"><stop offset="0" stop-color="#3b3c42"/><stop offset="1" stop-color="#383a42"/></linearGradient>
<linearGradient id="gFace" x1="0" y1="0" x2="0" y2="1"><stop offset="0" stop-color="#6b6c6e"/><stop offset="0.7" stop-color="#7b7c7e"/><stop offset="1" stop-color="#87888a"/></linearGradient>
<linearGradient id="gGrain" gradientUnits="userSpaceOnUse" x1="1540" y1="1180" x2="2174" y2="920"><stop offset="0" stop-color="#fff" stop-opacity="0.2"/><stop offset="0.6" stop-color="#fff" stop-opacity="0.08"/><stop offset="1" stop-color="#fff" stop-opacity="0.03"/></linearGradient>
<filter id="grain" x="0" y="0" width="100%" height="100%"><feTurbulence type="fractalNoise" baseFrequency="0.55" numOctaves="2" seed="7" result="n"/><feColorMatrix in="n" type="matrix" values="0 0 0 0 0.75  0 0 0 0 0.8  0 0 0 0 0.85  0.9 0.9 0.9 0 -1.05"/><feComposite operator="in" in2="SourceGraphic"/></filter>
</defs>
<polygon points="1476.0,1111.0 2176.0,842.8 2176.0,876.2 1532.4,1132.5 1473.7,1153.5 1434.9,1152.1" fill="#0b0d11"/>
<line x1="1479.0" y1="1110.3" x2="1481.2" y2="1112.2" stroke="#30343a" stroke-width="1"/>
<line x1="1483.4" y1="1108.6" x2="1485.6" y2="1110.5" stroke="#30343a" stroke-width="1"/>
<line x1="1487.8" y1="1106.9" x2="1490.0" y2="1108.8" stroke="#30343a" stroke-width="1"/>
<line x1="1492.2" y1="1105.2" x2="1494.4" y2="1107.1" stroke="#30343a" stroke-width="1"/>
<line x1="1496.6" y1="1103.5" x2="1498.8" y2="1105.4" stroke="#30343a" stroke-width="1"/>
<line x1="1501.0" y1="1101.8" x2="1503.2" y2="1103.7" stroke="#30343a" stroke-width="1"/>
<line x1="1505.4" y1="1100.1" x2="1507.6" y2="1102.0" stroke="#30343a" stroke-width="1"/>
<line x1="1509.8" y1="1098.5" x2="1512.0" y2="1100.4" stroke="#30343a" stroke-width="1"/>
<line x1="1514.2" y1="1096.8" x2="1516.4" y2="1098.7" stroke="#30343a" stroke-width="1"/>
<line x1="1518.6" y1="1095.1" x2="1520.8" y2="1097.0" stroke="#30343a" stroke-width="1"/>
<line x1="1523.0" y1="1093.4" x2="1525.2" y2="1095.3" stroke="#30343a" stroke-width="1"/>
<line x1="1527.4" y1="1091.7" x2="1529.6" y2="1093.6" stroke="#30343a" stroke-width="1"/>
<line x1="1531.8" y1="1090.0" x2="1534.0" y2="1091.9" stroke="#30343a" stroke-width="1"/>
<line x1="1536.2" y1="1088.3" x2="1538.4" y2="1090.2" stroke="#30343a" stroke-width="1"/>
<line x1="1540.6" y1="1086.7" x2="1542.8" y2="1088.6" stroke="#30343a" stroke-width="1"/>
<line x1="1545.0" y1="1085.0" x2="1547.2" y2="1086.9" stroke="#30343a" stroke-width="1"/>
<line x1="1549.4" y1="1083.3" x2="1551.6" y2="1085.2" stroke="#30343a" stroke-width="1"/>
<line x1="1553.8" y1="1081.6" x2="1556.0" y2="1083.5" stroke="#30343a" stroke-width="1"/>
<line x1="1558.2" y1="1079.9" x2="1560.4" y2="1081.8" stroke="#30343a" stroke-width="1"/>
<line x1="1562.6" y1="1078.2" x2="1564.8" y2="1080.1" stroke="#30343a" stroke-width="1"/>
<line x1="1567.0" y1="1076.5" x2="1569.2" y2="1078.4" stroke="#30343a" stroke-width="1"/>
<line x1="1571.4" y1="1074.9" x2="1573.6" y2="1076.8" stroke="#30343a" stroke-width="1"/>
<line x1="1575.8" y1="1073.2" x2="1578.0" y2="1075.1" stroke="#30343a" stroke-width="1"/>
<line x1="1580.2" y1="1071.5" x2="1582.4" y2="1073.4" stroke="#30343a" stroke-width="1"/>
<line x1="1584.6" y1="1069.8" x2="1586.8" y2="1071.7" stroke="#30343a" stroke-width="1"/>
<line x1="1589.0" y1="1068.1" x2="1591.2" y2="1070.0" stroke="#30343a" stroke-width="1"/>
<line x1="1593.4" y1="1066.4" x2="1595.6" y2="1068.3" stroke="#30343a" stroke-width="1"/>
<line x1="1597.8" y1="1064.7" x2="1600.0" y2="1066.6" stroke="#30343a" stroke-width="1"/>
<line x1="1602.2" y1="1063.1" x2="1604.4" y2="1065.0" stroke="#30343a" stroke-width="1"/>
<line x1="1606.6" y1="1061.4" x2="1608.8" y2="1063.3" stroke="#30343a" stroke-width="1"/>
<line x1="1611.0" y1="1059.7" x2="1613.2" y2="1061.6" stroke="#30343a" stroke-width="1"/>
<line x1="1615.4" y1="1058.0" x2="1617.6" y2="1059.9" stroke="#30343a" stroke-width="1"/>
<line x1="1619.8" y1="1056.3" x2="1622.0" y2="1058.2" stroke="#30343a" stroke-width="1"/>
<line x1="1624.2" y1="1054.6" x2="1626.4" y2="1056.5" stroke="#30343a" stroke-width="1"/>
<line x1="1628.6" y1="1052.9" x2="1630.8" y2="1054.8" stroke="#30343a" stroke-width="1"/>
<line x1="1633.0" y1="1051.3" x2="1635.2" y2="1053.2" stroke="#30343a" stroke-width="1"/>
<line x1="1637.4" y1="1049.6" x2="1639.6" y2="1051.5" stroke="#30343a" stroke-width="1"/>
<line x1="1641.8" y1="1047.9" x2="1644.0" y2="1049.8" stroke="#30343a" stroke-width="1"/>
<line x1="1646.2" y1="1046.2" x2="1648.4" y2="1048.1" stroke="#30343a" stroke-width="1"/>
<line x1="1650.6" y1="1044.5" x2="1652.8" y2="1046.4" stroke="#30343a" stroke-width="1"/>
<line x1="1655.0" y1="1042.8" x2="1657.2" y2="1044.7" stroke="#30343a" stroke-width="1"/>
<line x1="1659.4" y1="1041.1" x2="1661.6" y2="1043.0" stroke="#30343a" stroke-width="1"/>
<line x1="1663.8" y1="1039.5" x2="1666.0" y2="1041.4" stroke="#30343a" stroke-width="1"/>
<line x1="1668.2" y1="1037.8" x2="1670.4" y2="1039.7" stroke="#30343a" stroke-width="1"/>
<line x1="1672.6" y1="1036.1" x2="1674.8" y2="1038.0" stroke="#30343a" stroke-width="1"/>
<line x1="1677.0" y1="1034.4" x2="1679.2" y2="1036.3" stroke="#30343a" stroke-width="1"/>
<line x1="1681.4" y1="1032.7" x2="1683.6" y2="1034.6" stroke="#30343a" stroke-width="1"/>
<line x1="1685.8" y1="1031.0" x2="1688.0" y2="1032.9" stroke="#30343a" stroke-width="1"/>
<line x1="1690.2" y1="1029.3" x2="1692.4" y2="1031.2" stroke="#30343a" stroke-width="1"/>
<line x1="1694.6" y1="1027.7" x2="1696.8" y2="1029.6" stroke="#30343a" stroke-width="1"/>
<line x1="1699.0" y1="1026.0" x2="1701.2" y2="1027.9" stroke="#30343a" stroke-width="1"/>
<line x1="1703.4" y1="1024.3" x2="1705.6" y2="1026.2" stroke="#30343a" stroke-width="1"/>
<line x1="1707.8" y1="1022.6" x2="1710.0" y2="1024.5" stroke="#30343a" stroke-width="1"/>
<line x1="1712.2" y1="1020.9" x2="1714.4" y2="1022.8" stroke="#30343a" stroke-width="1"/>
<line x1="1716.6" y1="1019.2" x2="1718.8" y2="1021.1" stroke="#30343a" stroke-width="1"/>
<line x1="1721.0" y1="1017.5" x2="1723.2" y2="1019.4" stroke="#30343a" stroke-width="1"/>
<line x1="1725.4" y1="1015.9" x2="1727.6" y2="1017.8" stroke="#30343a" stroke-width="1"/>
<line x1="1729.8" y1="1014.2" x2="1732.0" y2="1016.1" stroke="#30343a" stroke-width="1"/>
<line x1="1734.2" y1="1012.5" x2="1736.4" y2="1014.4" stroke="#30343a" stroke-width="1"/>
<line x1="1738.6" y1="1010.8" x2="1740.8" y2="1012.7" stroke="#30343a" stroke-width="1"/>
<line x1="1743.0" y1="1009.1" x2="1745.2" y2="1011.0" stroke="#30343a" stroke-width="1"/>
<line x1="1747.4" y1="1007.4" x2="1749.6" y2="1009.3" stroke="#30343a" stroke-width="1"/>
<line x1="1751.8" y1="1005.7" x2="1754.0" y2="1007.6" stroke="#30343a" stroke-width="1"/>
<line x1="1756.2" y1="1004.1" x2="1758.4" y2="1006.0" stroke="#30343a" stroke-width="1"/>
<line x1="1760.6" y1="1002.4" x2="1762.8" y2="1004.3" stroke="#30343a" stroke-width="1"/>
<line x1="1765.0" y1="1000.7" x2="1767.2" y2="1002.6" stroke="#30343a" stroke-width="1"/>
<line x1="1769.4" y1="999.0" x2="1771.6" y2="1000.9" stroke="#30343a" stroke-width="1"/>
<line x1="1773.8" y1="997.3" x2="1776.0" y2="999.2" stroke="#30343a" stroke-width="1"/>
<line x1="1778.2" y1="995.6" x2="1780.4" y2="997.5" stroke="#30343a" stroke-width="1"/>
<line x1="1782.6" y1="993.9" x2="1784.8" y2="995.8" stroke="#30343a" stroke-width="1"/>
<line x1="1787.0" y1="992.3" x2="1789.2" y2="994.2" stroke="#30343a" stroke-width="1"/>
<line x1="1791.4" y1="990.6" x2="1793.6" y2="992.5" stroke="#30343a" stroke-width="1"/>
<line x1="1795.8" y1="988.9" x2="1798.0" y2="990.8" stroke="#30343a" stroke-width="1"/>
<line x1="1800.2" y1="987.2" x2="1802.4" y2="989.1" stroke="#30343a" stroke-width="1"/>
<line x1="1804.6" y1="985.5" x2="1806.8" y2="987.4" stroke="#30343a" stroke-width="1"/>
<line x1="1809.0" y1="983.8" x2="1811.2" y2="985.7" stroke="#30343a" stroke-width="1"/>
<line x1="1813.4" y1="982.1" x2="1815.6" y2="984.0" stroke="#30343a" stroke-width="1"/>
<line x1="1817.8" y1="980.5" x2="1820.0" y2="982.4" stroke="#30343a" stroke-width="1"/>
<line x1="1822.2" y1="978.8" x2="1824.4" y2="980.7" stroke="#30343a" stroke-width="1"/>
<line x1="1826.6" y1="977.1" x2="1828.8" y2="979.0" stroke="#30343a" stroke-width="1"/>
<line x1="1831.0" y1="975.4" x2="1833.2" y2="977.3" stroke="#30343a" stroke-width="1"/>
<line x1="1835.4" y1="973.7" x2="1837.6" y2="975.6" stroke="#30343a" stroke-width="1"/>
<line x1="1839.8" y1="972.0" x2="1842.0" y2="973.9" stroke="#30343a" stroke-width="1"/>
<line x1="1844.2" y1="970.3" x2="1846.4" y2="972.2" stroke="#30343a" stroke-width="1"/>
<line x1="1848.6" y1="968.7" x2="1850.8" y2="970.6" stroke="#30343a" stroke-width="1"/>
<line x1="1853.0" y1="967.0" x2="1855.2" y2="968.9" stroke="#30343a" stroke-width="1"/>
<line x1="1857.4" y1="965.3" x2="1859.6" y2="967.2" stroke="#30343a" stroke-width="1"/>
<line x1="1861.8" y1="963.6" x2="1864.0" y2="965.5" stroke="#30343a" stroke-width="1"/>
<line x1="1866.2" y1="961.9" x2="1868.4" y2="963.8" stroke="#30343a" stroke-width="1"/>
<line x1="1870.6" y1="960.2" x2="1872.8" y2="962.1" stroke="#30343a" stroke-width="1"/>
<line x1="1875.0" y1="958.5" x2="1877.2" y2="960.4" stroke="#30343a" stroke-width="1"/>
<line x1="1879.4" y1="956.9" x2="1881.6" y2="958.8" stroke="#30343a" stroke-width="1"/>
<line x1="1883.8" y1="955.2" x2="1886.0" y2="957.1" stroke="#30343a" stroke-width="1"/>
<line x1="1888.2" y1="953.5" x2="1890.4" y2="955.4" stroke="#30343a" stroke-width="1"/>
<line x1="1892.6" y1="951.8" x2="1894.8" y2="953.7" stroke="#30343a" stroke-width="1"/>
<line x1="1897.0" y1="950.1" x2="1899.2" y2="952.0" stroke="#30343a" stroke-width="1"/>
<line x1="1901.4" y1="948.4" x2="1903.6" y2="950.3" stroke="#30343a" stroke-width="1"/>
<line x1="1905.8" y1="946.7" x2="1908.0" y2="948.6" stroke="#30343a" stroke-width="1"/>
<line x1="1910.2" y1="945.1" x2="1912.4" y2="947.0" stroke="#30343a" stroke-width="1"/>
<line x1="1914.6" y1="943.4" x2="1916.8" y2="945.3" stroke="#30343a" stroke-width="1"/>
<line x1="1919.0" y1="941.7" x2="1921.2" y2="943.6" stroke="#30343a" stroke-width="1"/>
<line x1="1923.4" y1="940.0" x2="1925.6" y2="941.9" stroke="#30343a" stroke-width="1"/>
<line x1="1927.8" y1="938.3" x2="1930.0" y2="940.2" stroke="#30343a" stroke-width="1"/>
<line x1="1932.2" y1="936.6" x2="1934.4" y2="938.5" stroke="#30343a" stroke-width="1"/>
<line x1="1936.6" y1="934.9" x2="1938.8" y2="936.8" stroke="#30343a" stroke-width="1"/>
<line x1="1941.0" y1="933.3" x2="1943.2" y2="935.2" stroke="#30343a" stroke-width="1"/>
<line x1="1945.4" y1="931.6" x2="1947.6" y2="933.5" stroke="#30343a" stroke-width="1"/>
<line x1="1949.8" y1="929.9" x2="1952.0" y2="931.8" stroke="#30343a" stroke-width="1"/>
<line x1="1954.2" y1="928.2" x2="1956.4" y2="930.1" stroke="#30343a" stroke-width="1"/>
<line x1="1958.6" y1="926.5" x2="1960.8" y2="928.4" stroke="#30343a" stroke-width="1"/>
<line x1="1963.0" y1="924.8" x2="1965.2" y2="926.7" stroke="#30343a" stroke-width="1"/>
<line x1="1967.4" y1="923.1" x2="1969.6" y2="925.0" stroke="#30343a" stroke-width="1"/>
<line x1="1971.8" y1="921.5" x2="1974.0" y2="923.4" stroke="#30343a" stroke-width="1"/>
<line x1="1976.2" y1="919.8" x2="1978.4" y2="921.7" stroke="#30343a" stroke-width="1"/>
<line x1="1980.6" y1="918.1" x2="1982.8" y2="920.0" stroke="#30343a" stroke-width="1"/>
<line x1="1985.0" y1="916.4" x2="1987.2" y2="918.3" stroke="#30343a" stroke-width="1"/>
<line x1="1989.4" y1="914.7" x2="1991.6" y2="916.6" stroke="#30343a" stroke-width="1"/>
<line x1="1993.8" y1="913.0" x2="1996.0" y2="914.9" stroke="#30343a" stroke-width="1"/>
<line x1="1998.2" y1="911.3" x2="2000.4" y2="913.2" stroke="#30343a" stroke-width="1"/>
<line x1="2002.6" y1="909.7" x2="2004.8" y2="911.6" stroke="#30343a" stroke-width="1"/>
<line x1="2007.0" y1="908.0" x2="2009.2" y2="909.9" stroke="#30343a" stroke-width="1"/>
<line x1="2011.4" y1="906.3" x2="2013.6" y2="908.2" stroke="#30343a" stroke-width="1"/>
<line x1="2015.8" y1="904.6" x2="2018.0" y2="906.5" stroke="#30343a" stroke-width="1"/>
<line x1="2020.2" y1="902.9" x2="2022.4" y2="904.8" stroke="#30343a" stroke-width="1"/>
<line x1="2024.6" y1="901.2" x2="2026.8" y2="903.1" stroke="#30343a" stroke-width="1"/>
<line x1="2029.0" y1="899.5" x2="2031.2" y2="901.4" stroke="#30343a" stroke-width="1"/>
<line x1="2033.4" y1="897.9" x2="2035.6" y2="899.8" stroke="#30343a" stroke-width="1"/>
<line x1="2037.8" y1="896.2" x2="2040.0" y2="898.1" stroke="#30343a" stroke-width="1"/>
<line x1="2042.2" y1="894.5" x2="2044.4" y2="896.4" stroke="#30343a" stroke-width="1"/>
<line x1="2046.6" y1="892.8" x2="2048.8" y2="894.7" stroke="#30343a" stroke-width="1"/>
<line x1="2051.0" y1="891.1" x2="2053.2" y2="893.0" stroke="#30343a" stroke-width="1"/>
<line x1="2055.4" y1="889.4" x2="2057.6" y2="891.3" stroke="#30343a" stroke-width="1"/>
<line x1="2059.8" y1="887.7" x2="2062.0" y2="889.6" stroke="#30343a" stroke-width="1"/>
<line x1="2064.2" y1="886.1" x2="2066.4" y2="888.0" stroke="#30343a" stroke-width="1"/>
<line x1="2068.6" y1="884.4" x2="2070.8" y2="886.3" stroke="#30343a" stroke-width="1"/>
<line x1="2073.0" y1="882.7" x2="2075.2" y2="884.6" stroke="#30343a" stroke-width="1"/>
<line x1="2077.4" y1="881.0" x2="2079.6" y2="882.9" stroke="#30343a" stroke-width="1"/>
<line x1="2081.8" y1="879.3" x2="2084.0" y2="881.2" stroke="#30343a" stroke-width="1"/>
<line x1="2086.2" y1="877.6" x2="2088.4" y2="879.5" stroke="#30343a" stroke-width="1"/>
<line x1="2090.6" y1="876.0" x2="2092.8" y2="877.9" stroke="#30343a" stroke-width="1"/>
<line x1="2095.0" y1="874.3" x2="2097.2" y2="876.2" stroke="#30343a" stroke-width="1"/>
<line x1="2099.4" y1="872.6" x2="2101.6" y2="874.5" stroke="#30343a" stroke-width="1"/>
<line x1="2103.8" y1="870.9" x2="2106.0" y2="872.8" stroke="#30343a" stroke-width="1"/>
<line x1="2108.2" y1="869.2" x2="2110.4" y2="871.1" stroke="#30343a" stroke-width="1"/>
<line x1="2112.6" y1="867.5" x2="2114.8" y2="869.4" stroke="#30343a" stroke-width="1"/>
<line x1="2117.0" y1="865.8" x2="2119.2" y2="867.7" stroke="#30343a" stroke-width="1"/>
<line x1="2121.4" y1="864.2" x2="2123.6" y2="866.1" stroke="#30343a" stroke-width="1"/>
<line x1="2125.8" y1="862.5" x2="2128.0" y2="864.4" stroke="#30343a" stroke-width="1"/>
<line x1="2130.2" y1="860.8" x2="2132.4" y2="862.7" stroke="#30343a" stroke-width="1"/>
<line x1="2134.6" y1="859.1" x2="2136.8" y2="861.0" stroke="#30343a" stroke-width="1"/>
<line x1="1464.8" y1="1131.0" x2="2176.0" y2="857.5" stroke="#3b434b" stroke-width="2.0" opacity="0.95"/>
<polygon points="1473.7,1153.5 2176.0,872.2 2176.0,876.2 1532.4,1132.5" fill="#15181c"/>
<line x1="1473.7" y1="1153.5" x2="2176.0" y2="872.2" stroke="#4a525b" stroke-width="2.2" opacity="0.95"/>
<polygon points="1532.4,1132.5 2176.0,876.2 2176.0,954.1 1577.7,1210.4" fill="url(#gMain)"/>
<polygon points="1532.4,1132.5 2176.0,876.2 2176.0,954.1 1577.7,1210.4" fill="url(#gGrain)" filter="url(#grain)"/>
<polygon points="1577.7,1210.4 2176.0,954.1 2176.0,967.2 1571.5,1222.5" fill="#3f434a"/>
<line x1="1574.6" y1="1216.5" x2="2176.0" y2="960.6" stroke="#17191d" stroke-width="1.2" opacity="0.9"/>
<polygon points="1571.5,1222.5 2176.0,967.2 2176.0,968.6 1573.5,1231.5" fill="#0b0c0f"/>
<polygon points="1573.5,1231.5 2176.0,968.6 2176.0,988.1 1573.5,1265.8" fill="url(#gRec)"/>
<polygon points="1573.5,1265.8 2176.0,988.1 2176.0,996.6 1580.6,1268.0" fill="#0b0c0f"/>
<polygon points="1580.6,1268.0 2176.0,996.6 2176.0,1055.0 1581.2,1340.8" fill="url(#gSide)"/>
<line x1="1532.4" y1="1132.5" x2="2176.0" y2="876.2" stroke="#5a5e66" stroke-width="1.1" opacity="0.5"/>
<line x1="1577.7" y1="1210.4" x2="2176.0" y2="954.1" stroke="#8f9298" stroke-width="1.2" opacity="0.65"/>
<line x1="1571.5" y1="1222.5" x2="2176.0" y2="967.2" stroke="#6f7379" stroke-width="1.0" opacity="0.55"/>
<line x1="1580.6" y1="1268.0" x2="2176.0" y2="996.6" stroke="#a3a5aa" stroke-width="1.2" opacity="0.7"/>

<!-- profile front end -->
<polygon points="1465.7,1168.4 1473.7,1153.5 1532.4,1132.5 1533.4,1177.2 1545.0,1201.5 1534.0,1213.0 1534.0,1262.0 1478.0,1262.0 1478.0,1193.6" fill="#0a0b0d"/>
<line x1="1479" y1="1196" x2="1534" y2="1170" stroke="#1d1a18" stroke-width="2.5"/>
<line x1="1484" y1="1212" x2="1534" y2="1190" stroke="#2a1a12" stroke-width="2.5"/>
<line x1="1487" y1="1226" x2="1528" y2="1208" stroke="#1c1c1e" stroke-width="2.5"/>
<line x1="1486" y1="1240" x2="1524" y2="1222" stroke="#26282c" stroke-width="2.5"/>
<polygon points="1479.7,1244.8 1485.3,1248.5 1488.6,1256.9 1522.2,1273.7 1526.4,1272.8 1527.3,1265.3 1533.4,1261.6 1533.4,1293.3 1510.5,1288.2 1479.7,1273.7" fill="#5d5e61"/>
<polygon points="1479.7,1274.6 1509.6,1288.6 1489.0,1298.0 1479.7,1293.3" fill="#08090a"/>
<polygon points="1479.7,1240.0 1479.7,1242.5 1485.3,1246.7 1488.6,1256.0 1522.2,1272.8 1525.5,1271.8 1526.4,1265.3 1532.0,1261.6 1534.0,1240.0" fill="#0a0b0d"/>
<polyline class="w" points="1479.7,1242.5 1485.3,1246.7 1488.6,1256.0 1522.2,1272.8 1525.5,1271.8 1526.4,1265.3 1532.0,1261.6" fill="none" stroke="#f4f4f4" stroke-width="1.6"/>
<line x1="1479.7" y1="1273.7" x2="1510.5" y2="1288.2" stroke="#f4f4f4" stroke-width="1.8"/>
<line x1="1481.5" y1="1203" x2="1481.5" y2="1240" stroke="#c9c9cb" stroke-width="5"/>
<rect x="1480.2" y="1205.0" width="2.6" height="3" fill="#111"/>
<rect x="1480.2" y="1211.2" width="2.6" height="3" fill="#111"/>
<rect x="1480.2" y="1217.4" width="2.6" height="3" fill="#111"/>
<rect x="1480.2" y="1223.6" width="2.6" height="3" fill="#111"/>
<rect x="1480.2" y="1229.8" width="2.6" height="3" fill="#111"/>
<rect x="1480.2" y="1236.0" width="2.6" height="3" fill="#111"/>
<line x1="1530.5" y1="1216" x2="1530.5" y2="1262" stroke="#c9c9cb" stroke-width="5"/>
<rect x="1529.2" y="1218.0" width="2.6" height="3" fill="#111"/>
<rect x="1529.2" y="1224.2" width="2.6" height="3" fill="#111"/>
<rect x="1529.2" y="1230.4" width="2.6" height="3" fill="#111"/>
<rect x="1529.2" y="1236.6" width="2.6" height="3" fill="#111"/>
<rect x="1529.2" y="1242.8" width="2.6" height="3" fill="#111"/>
<rect x="1529.2" y="1249.0" width="2.6" height="3" fill="#111"/>
<rect x="1529.2" y="1255.2" width="2.6" height="3" fill="#111"/>
<line x1="1485.5" y1="1206" x2="1488" y2="1236" stroke="#b58a6a" stroke-width="2"/>
<line x1="1526" y1="1222" x2="1525" y2="1258" stroke="#c79a72" stroke-width="2"/>
<polygon points="1437.5,1166.0 1448.5,1181.0 1465.7,1168.4 1476.9,1193.6 1476.9,1288.0 1472.0,1288.0 1470.5,1269.0 1437.5,1269.0" fill="url(#gFace)"/>
<polygon points="1438.0,1269.0 1444.0,1262.0 1476.0,1256.0 1476.0,1269.0" fill="#8b8c8e" opacity="0.55"/>
<polyline points="1436.8,1160.0 1436.8,1269.3 1470.5,1269.3" fill="none" stroke="#f4f4f4" stroke-width="1.7"/>
<polyline points="1465.7,1168.4 1477.8,1193.6 1478.4,1292.0" fill="none" stroke="#f4f4f4" stroke-width="2.2"/>
<rect x="1434.5" y="1203.5" width="3" height="9" fill="#111"/>
<rect x="1434" y="1169" width="3" height="7" fill="#222"/>
<polygon points="1438.5,1271.5 1450.0,1271.5 1450.0,1278.0 1444.0,1278.0" fill="#0b0b0c"/>
<polygon points="1464.5,1285.0 1468.0,1283.5 1468.0,1286.5" fill="#111"/>
<polygon points="1434.9,1152.1 1476.0,1111.0 1473.7,1153.5 1448.5,1181.0" fill="#0b0c0f"/>
<polyline points="1475.5,1113.0 1436.6,1152.3 1449.0,1179.6 1473.2,1154.5" fill="none" stroke="#f4f4f4" stroke-width="1.8" stroke-linejoin="miter"/>
<path d="M1470.5,1153.5 L1474.5,1152.3 L1475,1155.5 L1470,1160.5 Z" fill="#f4f4f4"/>
<path d="M1441,1153 Q1438.5,1158.5 1444,1160.5 L1464,1158.5 Q1468.5,1157 1470,1152.5" fill="none" stroke="#434a53" stroke-width="3.2" stroke-linecap="round"/>
<path d="M1444,1155.5 L1466,1152.5" fill="none" stroke="#5b646e" stroke-width="1.2" stroke-linecap="round"/>
<polygon points="1534.4,1212.4 1544.1,1200.6 1562.8,1225.5 1572.8,1231.6 1572.8,1272.4 1580.6,1272.4 1580.6,1338.0 1545.0,1320.0 1538.5,1320.0 1537.5,1316.6 1534.4,1316.6" fill="url(#gFace)"/>
<polygon points="1544.5,1319.5 1551.0,1309.0 1580.0,1296.0 1580.0,1319.5" fill="#909193" opacity="0.6"/>
<polyline points="1534.4,1317.5 1534.4,1212.4 1543.5,1201.5" fill="none" stroke="#f4f4f4" stroke-width="1.8"/>
<polyline points="1566.0,1228.0 1572.8,1231.6 1572.8,1271.5 1576.0,1273.5 1580.6,1268.2 1580.6,1340.5" fill="none" stroke="#f4f4f4" stroke-width="1.6"/>
<polyline points="1572.8,1233.0 1578.5,1233.0 1578.5,1241.0" fill="none" stroke="#f4f4f4" stroke-width="1.6"/>
<line x1="1544" y1="1320.4" x2="1580" y2="1320.4" stroke="#f4f4f4" stroke-width="1.8"/>
<polygon points="1527.3,1306.0 1534.0,1305.0 1534.0,1316.0 1529.0,1316.0" fill="#0b0b0c"/>
<polygon points="1547.5,1321.5 1558.0,1325.5 1555.0,1327.5 1549.0,1325.5" fill="#0b0b0c"/>
<polygon points="1575.0,1337.5 1579.0,1336.0 1579.0,1339.0" fill="#111"/>
<polygon points="1532.4,1132.5 1577.7,1210.4 1576.0,1216.0 1563.0,1225.0 1533.4,1177.2" fill="#0b0c0f"/>
<polyline points="1532.4,1132.5 1577.7,1210.4" fill="none" stroke="#f4f4f4" stroke-width="1.9"/>
<path d="M1577.7,1210.4 Q1579,1213 1576,1216 L1564.5,1225 Q1562.5,1226 1561,1223.5 L1533.8,1178" fill="none" stroke="#f4f4f4" stroke-width="1.8" stroke-linejoin="round"/>
<path d="M1533.4,1176 L1536.5,1181.5" stroke="#f4f4f4" stroke-width="3.2" stroke-linecap="round"/>
<path d="M1542.5,1171.5 L1566,1210.5 Q1568.5,1215 1564.5,1215.5 Q1561,1215.5 1559,1211.5 L1544.5,1185" fill="none" stroke="#3c424a" stroke-width="2.4" stroke-linecap="round" stroke-linejoin="round"/>

</svg>
</body></html>
